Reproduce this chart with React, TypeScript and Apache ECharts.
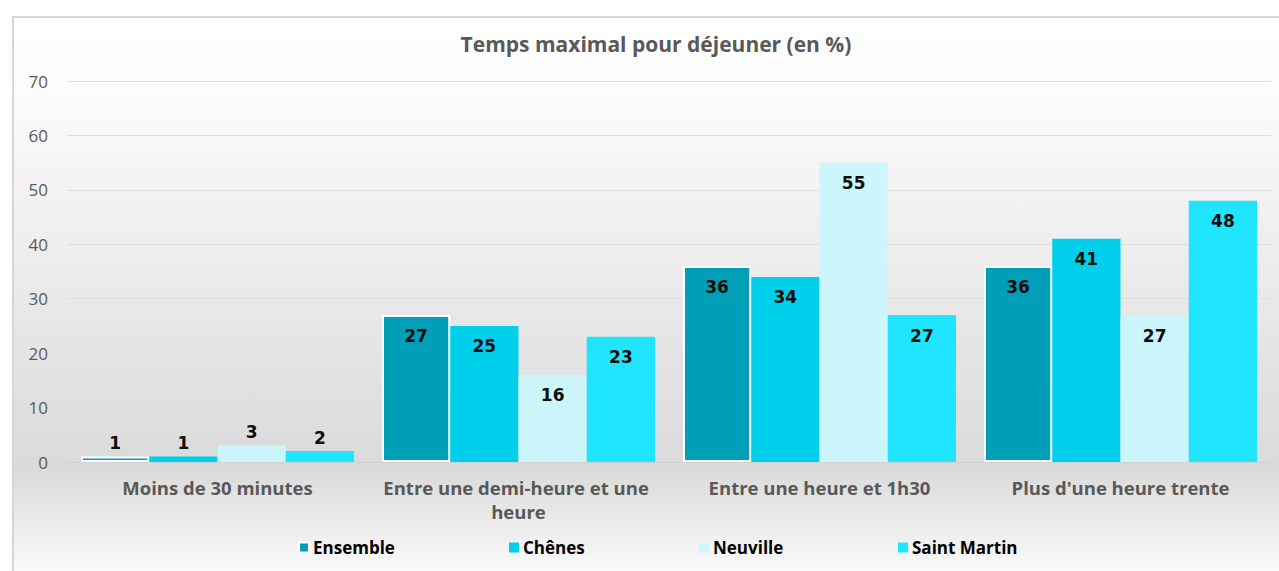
import React, { useEffect, useRef } from "react";
import * as echarts from "echarts";

const categories = [
  "Moins de 30 minutes",
  "Entre une demi-heure et une heure",
  "Entre une heure et 1h30",
  "Plus d'une heure trente",
];
const seriesNames = ["Ensemble", "Chênes", "Neuville", "Saint Martin"];
const ensemble = [1, 27, 36, 36];
const chenes = [1, 25, 34, 41];
const neuville = [3, 16, 55, 27];
const saintMartin = [2, 23, 27, 48];
const colors = ["#009fb7", "#00cfeb", "#ccf6fb", "#1fe5ff"];
const yTicks = { min: 0, max: 70, interval: 10 };
const title = "Temps maximal pour déjeuner (en %)";

const FONT = "'Open Sans', sans-serif";

export default function App() {
  const ref = useRef<HTMLDivElement>(null);
  useEffect(() => {
    if (!ref.current) return;
    const chart = echarts.init(ref.current, null, { renderer: "svg" });
    const values = [ensemble, chenes, neuville, saintMartin];
    const legendLefts = [293, 504, 694, 893];
    const series = seriesNames.map((name, si) => ({
      name,
      type: "bar",
      barGap: "0%",
      barCategoryGap: "9.3%",
      itemStyle:
        si === 0
          ? { color: colors[si], borderColor: "#ffffff", borderWidth: 2 }
          : { color: colors[si] },
      data: values[si].map((v, ci) => ({
        value: v,
        label:
          ci === 0
            ? { position: "top", distance: 5 }
            : { position: "insideTop", distance: 12 },
      })),
      label: {
        show: true,
        color: "#0d0d0d",
        fontFamily: "'DejaVu Sans', sans-serif",
        fontWeight: "bold",
        fontSize: 17,
      },
    }));
    chart.setOption({
      animation: false,
      color: colors,
      graphic: [
        {
          type: "rect",
          z: -10,
          silent: true,
          shape: { x: 13, y: 17, width: 1290, height: 600 },
          style: {
            fill: new echarts.graphic.LinearGradient(0, 0, 0, 1, [
              { offset: 0, color: "#ffffff" },
              { offset: 0.1, color: "#fdfdfd" },
              { offset: 0.75, color: "#dadada" },
              { offset: 0.93, color: "#fbfbfb" },
              { offset: 1, color: "#ffffff" },
            ]),
            stroke: "#d6d6d6",
            lineWidth: 2,
          },
        },
      ],
      title: {
        text: title,
        left: 651,
        textAlign: "center",
        top: 28,
        textStyle: {
          fontFamily: FONT,
          fontWeight: "bold",
          fontSize: 21,
          color: "#595959",
        },
      },
      legend: seriesNames.map((n, i) => ({
        data: [n],
        left: legendLefts[i],
        top: 534,
        itemWidth: 10,
        itemHeight: 10,
        itemGap: 4,
        icon: "rect",
        textStyle: {
          fontFamily: FONT,
          fontWeight: "bold",
          fontSize: 17,
          color: "#000000",
          padding: [0, 0, 0, -1],
        },
      })),
      grid: { left: 67, right: 8, top: 81, bottom: 109, containLabel: false },
      xAxis: {
        type: "category",
        data: categories,
        axisTick: { show: false },
        axisLine: { lineStyle: { color: "#d0d0d0", width: 1 } },
        axisLabel: {
          fontFamily: FONT,
          fontWeight: "bold",
          fontSize: 18.5,
          color: "#595959",
          margin: 13,
          width: 300,
          overflow: "break",
          lineHeight: 24,
          interval: 0,
        },
      },
      yAxis: {
        type: "value",
        min: yTicks.min,
        max: yTicks.max,
        interval: yTicks.interval,
        axisLabel: {
          fontFamily: FONT,
          fontSize: 17,
          color: "#595959",
          margin: 19,
        },
        splitLine: { lineStyle: { color: "#dedede", width: 1 } },
      },
      series,
    });
    return () => chart.dispose();
  }, []);
  return (
    <div
      ref={ref}
      style={{ position: "fixed", left: 0, top: 0, width: 1279, height: 571, background: "#ffffff" }}
    />
  );
}
